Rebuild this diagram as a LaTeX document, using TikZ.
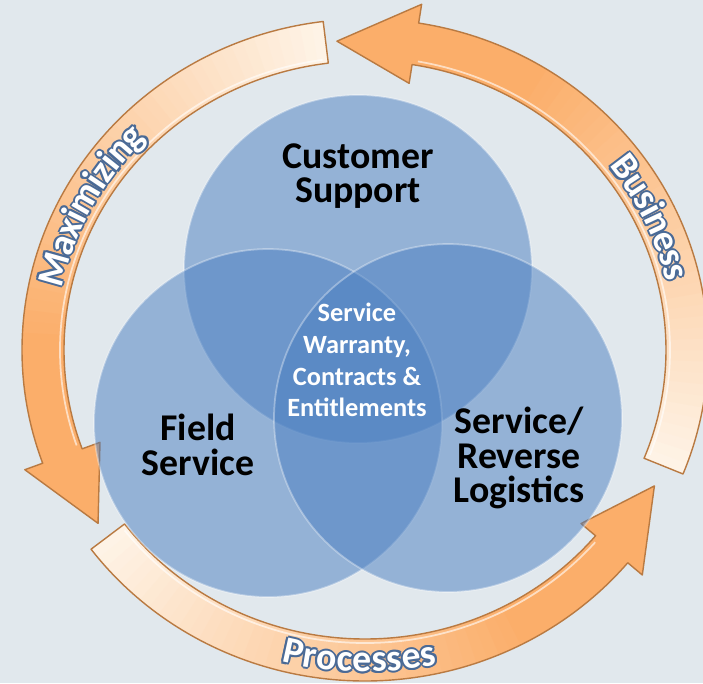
\documentclass[tikz,border=0pt]{standalone}
\usepackage{fontspec}
\setmainfont{Carlito}
\usepackage{xcolor}
\usepackage{tikz}
\usetikzlibrary{positioning,decorations.text}

\definecolor{bgblue}{HTML}{E1E8ED}
\definecolor{vennblue}{HTML}{497EC1}
\definecolor{arrowcream}{HTML}{FEF3E6}
\definecolor{arroworange}{HTML}{FBAE6A}
\definecolor{arrowedge}{HTML}{B97A42}
\definecolor{rimblue}{HTML}{4A6A96}

\tikzset{
  venn/.style={circle, minimum size=6.96cm, fill=vennblue, fill opacity=0.5, draw=white, draw opacity=0.35, line width=1pt},
  bigtext/.style={align=center, font=\fontsize{21.5}{19.8}\selectfont\bfseries, text=black},
  midtext/.style={align=center, font=\fontsize{15}{18.1}\selectfont\bfseries, text=white},
  ringtext/.style 2 args={decorate, decoration={text along path, text align=center, raise=-0.24cm,
    text={|\fontsize{21.5}{24}\selectfont\bfseries\color{#1}|#2}}}
}

\begin{document}
\begin{tikzpicture}[x=0.02cm, y=0.02cm]
    % Background
    \fill[bgblue] (-365,-333) rectangle (338,350);
    \useasboundingbox (-365,-333) rectangle (338,350);
    \clip (-365,-333) rectangle (338,350);

    % Ring arrows
    \foreach \t in {-22,97,217} {
      \foreach \i in {0,...,51} {
        \pgfmathsetmacro\ang{\t+2*\i}
        \pgfmathtruncatemacro\pct{min(100,2.5*\i)}
        \fill[arroworange!\pct!arrowcream] ({343*cos(\ang)},{331*sin(\ang)}) -- ({343*cos(\ang+2.3)},{331*sin(\ang+2.3)})
          -- ({301*cos(\ang+2.3)},{289*sin(\ang+2.3)}) -- ({301*cos(\ang)},{289*sin(\ang)}) -- cycle;
      }
      \fill[arroworange] ({362*cos(\t+103)},{350*sin(\t+103)}) -- ({322*cos(\t+117)},{310*sin(\t+117)})
        -- ({282*cos(\t+103)},{270*sin(\t+103)}) -- cycle;
      \draw[white, opacity=0.6, line width=1pt] ({305*cos(\t+1)},{293*sin(\t+1)})
        arc[start angle=\t+1, end angle=\t+102, x radius=305, y radius=293];
      \draw[arrowedge, line width=0.8pt, line join=round] ({343*cos(\t)},{331*sin(\t)})
        arc[start angle=\t, end angle=\t+103, x radius=343, y radius=331]
        -- ({362*cos(\t+103)},{350*sin(\t+103)}) -- ({322*cos(\t+117)},{310*sin(\t+117)})
        -- ({282*cos(\t+103)},{270*sin(\t+103)}) -- ({301*cos(\t+103)},{289*sin(\t+103)})
        arc[start angle=\t+103, end angle=\t, x radius=301, y radius=289] -- cycle;
    }

    % Ring labels: blue rim first, white letters on top
    \foreach \dx/\dy in {2/0,-2/0,0/2,0/-2,1.4/1.4,-1.4/1.4,1.4/-1.4,-1.4/-1.4} {
      \path[ringtext={rimblue}{Maximizing}, shift={(\dx,\dy)}] ({322*cos(181)},{310*sin(181)}) arc[start angle=181, end angle=122, x radius=322, y radius=310];
      \path[ringtext={rimblue}{Business}, shift={(\dx,\dy)}] ({322*cos(55)},{310*sin(55)}) arc[start angle=55, end angle=-4, x radius=322, y radius=310];
      \path[ringtext={rimblue}{Processes}, shift={(\dx,\dy)}] ({322*cos(239.5)},{310*sin(239.5)}) arc[start angle=239.5, end angle=298.5, x radius=322, y radius=310];
    }
    \path[ringtext={white}{Maximizing}] ({322*cos(181)},{310*sin(181)}) arc[start angle=181, end angle=122, x radius=322, y radius=310];
    \path[ringtext={white}{Business}] ({322*cos(55)},{310*sin(55)}) arc[start angle=55, end angle=-4, x radius=322, y radius=310];
    \path[ringtext={white}{Processes}] ({322*cos(239.5)},{310*sin(239.5)}) arc[start angle=239.5, end angle=298.5, x radius=322, y radius=310];

    % Circles
    \node[venn] (support) at (-7,81) {};
    \node[venn] (field) at (-97,-73) {};
    \node[venn] (logistics) at (83,-68) {};

    % Texts
    \node[bigtext] (supporttext) at (-7,174) {Customer\\Support};
    \node[bigtext] (fieldtext) at (-167,-95) {Field\\Service};
    \node[bigtext] (logisticstext) at (154,-108) {Service/\\Reverse\\Logistics};
    \node[midtext] (warranty) at (-8,-10) {Service\\Warranty,\\Contracts \&\\Entitlements};
\end{tikzpicture}
\end{document}
